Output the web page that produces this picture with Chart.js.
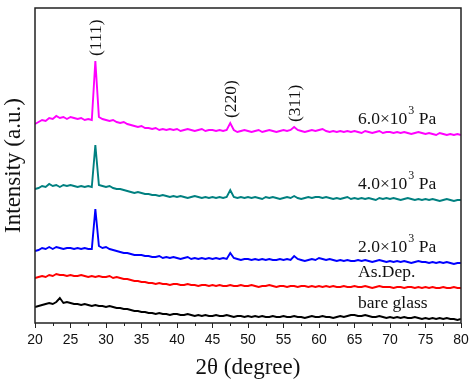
<!DOCTYPE html>
<html>
<head>
<meta charset="utf-8">
<script src="https://cdn.jsdelivr.net/npm/chart.js@4/dist/chart.umd.min.js"></script>
<style>
html,body{margin:0;padding:0;background:#fff;}
#wrap{width:474px;height:383px;}
</style>
</head>
<body>
<div id="wrap"><canvas id="c" width="474" height="383"></canvas></div>
<script>
// ---- data ----
const twoTheta = [
20,20.5,21,21.5,22,22.5,23,23.5,24,24.5,
25,25.5,26,26.5,27,27.5,28,28.5,29,29.5,
30,30.5,31,31.5,32,32.5,33,33.5,34,34.5,
35,35.5,36,36.5,37,37.5,38,38.5,39,39.5,
40,40.5,41,41.5,42,42.5,43,43.5,44,44.5,
45,45.5,46,46.5,47,47.5,48,48.5,49,49.5,
50,50.5,51,51.5,52,52.5,53,53.5,54,54.5,
55,55.5,56,56.5,57,57.5,58,58.5,59,59.5,
60,60.5,61,61.5,62,62.5,63,63.5,64,64.5,
65,65.5,66,66.5,67,67.5,68,68.5,69,69.5,
70,70.5,71,71.5,72,72.5,73,73.5,74,74.5,
75,75.5,76,76.5,77,77.5,78,78.5,79,79.5,
80];

const bareGlass = [
16,17,18,19,20,19,21,25,20,21,
20,19,19,18,19,18,17,18,17,17,
16,17,16,15,15,14,14,13,12,12,
11,11,10,10,9,10,9,9,8,9,
9,8,8,9,8,7,8,7,8,7,
7,8,7,7,8,7,6,7,7,6,
7,6,7,6,7,6,6,7,6,6,
7,6,6,7,6,6,5,6,7,6,
6,7,6,6,5,6,7,6,7,8,
8,7,7,8,7,6,6,7,6,5,
6,5,6,5,6,5,5,6,5,4,
5,4,5,4,5,4,5,4,4,3,
4];

const asDep = [
45,46,47,46,48,47,49,48,48,47,
48,47,47,48,47,46,47,46,47,46,
46,47,45,46,45,44,44,43,42,42,
41,41,40,40,39,40,39,39,38,39,
39,38,38,39,38,38,37,38,38,37,
38,37,38,37,37,38,37,37,38,37,
37,38,37,36,37,37,38,37,36,37,
37,36,37,37,36,37,37,36,37,36,
37,36,37,36,37,36,36,37,36,36,
37,36,36,37,36,35,36,37,36,36,
36,35,36,36,35,36,36,35,36,35,
36,35,36,35,35,36,35,35,36,35,
35];

const pa2 = [
72,73,75,74,76,74,76,75,74,75,
75,74,75,74,75,74,74,114,77,75,
76,74,73,72,71,70,70,69,68,68,
68,67,67,66,66,67,65,66,65,66,
65,64,65,66,64,65,64,65,64,65,
64,65,64,65,64,70,65,64,63,64,
64,63,64,63,64,63,64,63,63,64,
63,64,63,67,64,63,62,63,64,63,
65,64,63,64,63,62,63,62,63,62,
62,63,62,63,62,61,62,63,62,61,
62,61,62,61,62,61,60,61,62,61,
61,60,61,60,61,60,61,60,59,60,
60];

const pa4 = [
134,135,137,136,139,137,138,136,138,137,
138,137,136,137,136,137,136,178,138,137,
136,137,135,134,134,133,132,131,130,131,
130,129,129,128,128,127,128,127,126,127,
126,127,126,125,126,127,126,125,126,125,
126,125,126,125,126,133,126,125,126,125,
126,125,126,125,124,126,125,126,125,124,
125,126,125,127,125,124,125,126,125,126,
126,125,126,125,124,125,124,125,126,124,
125,124,125,124,125,124,123,125,124,125,
124,125,124,123,124,125,124,123,124,123,
124,123,124,123,122,123,124,123,122,123,
123];

const pa6 = [
199,201,203,202,205,204,207,205,206,204,
206,205,204,205,203,204,203,262,206,204,
203,202,203,201,200,201,199,198,197,196,
197,195,195,194,195,193,194,193,194,193,
194,192,193,194,193,192,193,194,192,193,
193,192,193,192,193,200,193,191,192,193,
192,191,192,193,191,192,193,192,191,192,
193,192,193,196,193,192,191,192,193,192,
193,194,192,191,192,191,192,191,192,191,
192,191,190,192,191,190,191,192,190,191,
191,190,191,190,191,190,189,190,191,190,
189,190,189,188,190,189,188,189,188,189,
188];

const seriesNames = ['bare glass', 'As.Dep.', '2.0×10^3 Pa', '4.0×10^3 Pa', '6.0×10^3 Pa'];
const peakLabels = ['(111)', '(220)', '(311)'];
const peakAngles = [28.5, 47.5, 56.5];
const xTicks = [20, 25, 30, 35, 40, 45, 50, 55, 60, 65, 70, 75, 80];

// ---- styling ----
const colors = ['#000000', '#ff0000', '#0000ff', '#008080', '#ff00ff'];
const seriesData = [bareGlass, asDep, pa2, pa4, pa6];
const SERIF = '"Liberation Serif", "Times New Roman", serif';
const SANS = '"Liberation Sans", Arial, sans-serif';

const datasets = seriesData.map((arr, i) => ({
  label: seriesNames[i],
  data: arr.map((v, k) => ({x: twoTheta[k], y: v})),
  borderColor: colors[i],
  backgroundColor: colors[i],
  borderWidth: 1.9,
  pointRadius: 0,
  tension: 0,
  fill: false
}));

const decorPlugin = {
  id: 'decor',
  afterDatasetsDraw(chart) {
    const {ctx, chartArea: a, scales: {x, y}} = chart;
    ctx.save();
    // frame
    ctx.strokeStyle = '#222';
    ctx.lineWidth = 1.5;
    ctx.strokeRect(a.left, a.top, a.right - a.left, a.bottom - a.top);
    // minor ticks
    ctx.lineWidth = 1;
    ctx.beginPath();
    for (let i = 0; i < xTicks.length - 1; i++) {
      const px = Math.round(x.getPixelForValue((xTicks[i] + xTicks[i + 1]) / 2)) + 0.5;
      ctx.moveTo(px, a.bottom);
      ctx.lineTo(px, a.bottom + 3);
    }
    ctx.stroke();

    // series labels
    ctx.fillStyle = '#111';
    ctx.textBaseline = 'middle';
    ctx.textAlign = 'left';
    seriesData.forEach((arr, i) => {
      const px = x.getPixelForValue(65.5);
      const py = y.getPixelForValue(arr[arr.length - 1] + 16);
      const name = seriesNames[i];
      const parts = name.split('^');
      ctx.font = '17.5px ' + SERIF;
      if (parts.length === 1) {
        ctx.fillText(name, px, py);
      } else {
        const base = parts[0];
        const sup = parts[1].charAt(0);
        const rest = parts[1].slice(1);
        ctx.fillText(base, px, py);
        let w = ctx.measureText(base).width;
        ctx.font = '12px ' + SERIF;
        ctx.fillText(sup, px + w + 1, py - 8);
        w += ctx.measureText(sup).width + 1;
        ctx.font = '17.5px ' + SERIF;
        ctx.fillText(rest, px + w, py);
      }
    });

    // peak labels (rotated)
    const top = seriesData[seriesData.length - 1];
    ctx.font = '17.5px ' + SERIF;
    peakLabels.forEach((lab, i) => {
      const k = twoTheta.indexOf(peakAngles[i]);
      const px = x.getPixelForValue(peakAngles[i]) + 1.5;
      const py = y.getPixelForValue(top[k]);
      ctx.save();
      ctx.translate(px, py);
      ctx.rotate(-Math.PI / 2);
      ctx.textAlign = 'left';
      ctx.textBaseline = 'middle';
      ctx.fillText(lab, 5, 0);
      ctx.restore();
    });
    ctx.restore();
  }
};

new Chart(document.getElementById('c'), {
  type: 'line',
  data: {datasets},
  options: {
    responsive: false,
    animation: false,
    events: [],
    layout: {padding: {left: 0, right: 13, top: 8, bottom: 0}},
    plugins: {legend: {display: false}, tooltip: {enabled: false}},
    scales: {
      x: {
        type: 'linear',
        min: 20, max: 80,
        afterFit: s => { s.height = 60; },
        afterBuildTicks: s => { s.ticks = xTicks.map(v => ({value: v})); },
        ticks: {
          font: {family: SANS, size: 14},
          color: '#111',
          padding: 4,
          maxRotation: 0,
          autoSkip: false
        },
        grid: {display: true, drawOnChartArea: false, drawTicks: true, tickLength: 5, color: '#222', lineWidth: 1},
        border: {display: false},
        title: {display: true, text: '2θ (degree)', font: {family: SERIF, size: 23}, color: '#111', padding: {top: 0, bottom: 1}}
      },
      y: {
        min: 0, max: 315,
        afterFit: s => { s.width = 35; },
        ticks: {display: false},
        grid: {display: false, drawTicks: false},
        border: {display: false},
        title: {display: true, text: 'Intensity (a.u.)', font: {family: SERIF, size: 23}, color: '#111', padding: {top: 0, bottom: 0}}
      }
    }
  },
  plugins: [decorPlugin]
});
</script>
</body>
</html>
